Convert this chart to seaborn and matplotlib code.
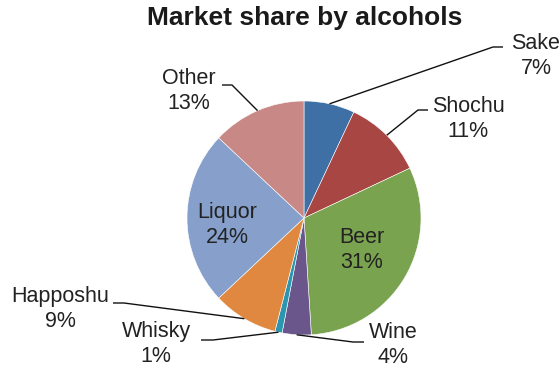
import numpy as np
import matplotlib
matplotlib.use("Agg")
import matplotlib.pyplot as plt
import seaborn as sns

# Market share by alcohol category (%)
categories = ["Sake", "Shochu", "Beer", "Wine", "Whisky", "Happoshu", "Liquor", "Other"]
shares = [7, 11, 31, 4, 1, 9, 24, 13]
colors = ["#3e70a5", "#a84644", "#7aa34f", "#6a568a", "#2b96b0",
          "#e08840", "#86a0cb", "#c78886"]

sns.set_theme(style="white")
plt.rcParams["font.family"] = ["Liberation Sans", "DejaVu Sans"]

W, H = 560, 368
fig = plt.figure(figsize=(W / 100, H / 100), dpi=100)
ax = fig.add_axes([0, 0, 1, 1])
ax.set_xlim(0, W)
ax.set_ylim(0, H)
ax.set_aspect("equal")
ax.axis("off")

cx, cy, r = 304, H - 218, 117
wedges, _ = ax.pie(shares, colors=colors, startangle=90, counterclock=False,
                   center=(cx, cy), radius=r,
                   wedgeprops=dict(edgecolor="white", linewidth=0.4))
ax.set_xlim(0, W)
ax.set_ylim(0, H)

txt_color = "#222222"
fs = 15.5

# Label block centres (pixel coords from top-left) and leader elbows
label_pos = {
    "Sake": (536, 56), "Shochu": (468, 119), "Beer": (362, 250),
    "Wine": (393, 345), "Whisky": (156, 344), "Happoshu": (60, 309),
    "Liquor": (227, 225), "Other": (189, 91),
}
leaders = {
    "Sake": [(493, 47), (503, 47)],
    "Shochu": [(418, 110), (428, 110)],
    "Wine": [(353, 342), (364, 342)],
    "Whisky": [(213, 340), (201, 340)],
    "Happoshu": [(124, 303), (113, 303)],
    "Other": [(232, 85), (222, 85)],
}

for w, name, val in zip(wedges, categories, shares):
    px, py = label_pos[name]
    ax.text(px, H - py, f"{name}\n{val}%", ha="center", va="center",
            fontsize=fs, color=txt_color, linespacing=1.3)
    if name in leaders:
        mid = np.deg2rad((w.theta1 + w.theta2) / 2)
        sx, sy = cx + r * np.cos(mid), cy + r * np.sin(mid)
        pts = [(sx, sy)] + [(x, H - y) for x, y in leaders[name]]
        xs, ys = zip(*pts)
        ax.plot(xs, ys, color="#111111", lw=1.0, solid_capstyle="butt")

ax.text(305, H - 18, "Market share by alcohols", ha="center", va="center",
        fontsize=19, fontweight="bold", color="#1a1a1a")

fig.savefig("out.png", dpi=100)
